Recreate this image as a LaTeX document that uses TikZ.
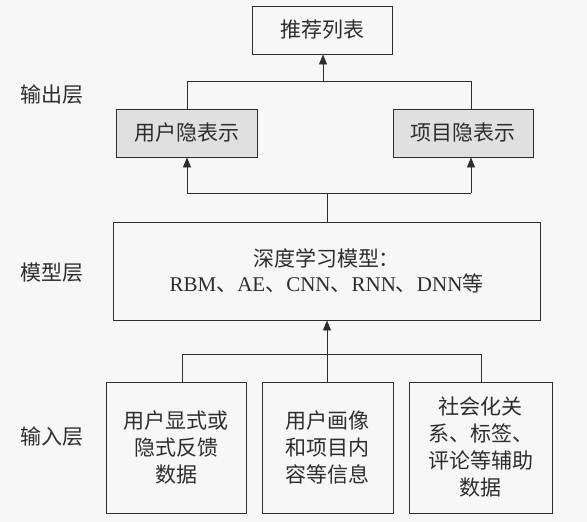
\documentclass[tikz,border=0pt]{standalone}
\usepackage{fontspec}
\setmainfont{Liberation Serif}
\newfontfamily\cjk{Noto Sans CJK SC}
\usetikzlibrary{arrows.meta}
\definecolor{inkgray}{RGB}{45, 45, 45}
\definecolor{hiddenfill}{RGB}{224, 224, 224}
\definecolor{paper}{RGB}{247, 247, 247}
\newcommand{\lat}[1]{{\rmfamily #1}}

\begin{document}
\begin{tikzpicture}[
    x=1pt, y=-1pt,
    font=\fontsize{21}{27}\selectfont\cjk,
    color=inkgray,
    line width=0.9pt,
    box/.style={draw=inkgray, rectangle, inner sep=0pt, align=center},
    hidden/.style={box, fill=hiddenfill},
    arr/.style={-{Triangle[length=10pt, width=8pt]}}
]

    % Page
    \useasboundingbox (0,0) rectangle (587,522);
    \fill[paper] (0,0) rectangle (587,522);

    % Layer names
    \node (outlayer) at (52,95) {输出层};
    \node (modellayer) at (52,273) {模型层};
    \node (inlayer) at (52,437) {输入层};

    % Output layer
    \node[box, minimum width=140, minimum height=48] (list) at (322,30) {推荐列表};
    \node[hidden, minimum width=141, minimum height=48] (uhid) at (186.5,133) {用户隐表示};
    \node[hidden, minimum width=140, minimum height=48] (ihid) at (463,133) {项目隐表示};

    % Model layer
    \node[box, minimum width=427, minimum height=98] (model) at (326.5,271)
        {深度学习模型：\\[-2pt]\lat{RBM}、\lat{AE}、\lat{CNN}、\lat{RNN}、\lat{DNN}等};

    % Input layer
    \node[box, minimum width=140, minimum height=131] (feedback) at (176,447.5)
        {用户显式或\\隐式反馈\\数据};
    \node[box, minimum width=131, minimum height=131] (profile) at (327.5,447.5)
        {用户画像\\和项目内\\容等信息};
    \node[box, minimum width=143, minimum height=131] (aux) at (480.5,447.5)
        {社会化关\\系、标签、\\评论等辅助\\数据};

    % Junctions
    \coordinate (tl) at (187,81);
    \coordinate (tc) at (323,81);
    \coordinate (tr) at (471,81);
    \coordinate (ml) at (187,193);
    \coordinate (mc) at (327,193);
    \coordinate (mr) at (471,193);
    \coordinate (bl) at (182,354);
    \coordinate (bc) at (327,354);
    \coordinate (br) at (481,354);

    % Hidden representations -> list
    \draw (tl |- uhid.north) -- (tl) -- (tr) -- (tr |- ihid.north);
    \draw[arr] (tc) -- (tc |- list.south);

    % Model -> hidden representations
    \draw (mc |- model.north) -- (mc);
    \draw (ml) -- (mr);
    \draw[arr] (ml) -- (ml |- uhid.south);
    \draw[arr] (mr) -- (mr |- ihid.south);

    % Inputs -> model
    \draw (bl |- feedback.north) -- (bl) -- (br) -- (br |- aux.north);
    \draw (bc |- profile.north) -- (bc);
    \draw[arr] (bc) -- (bc |- model.south);

\end{tikzpicture}
\end{document}
